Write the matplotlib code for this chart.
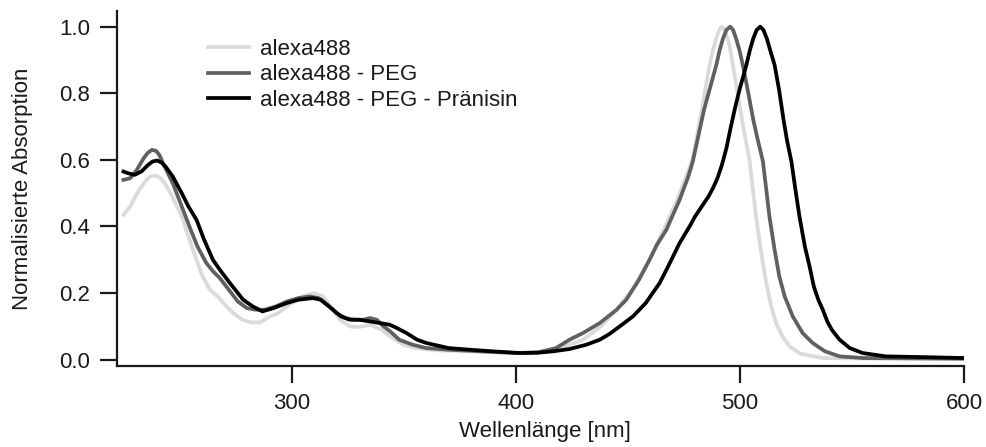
import numpy as np
import matplotlib
matplotlib.use('Agg')
import matplotlib.pyplot as plt

# wavelength [nm] / normalised absorption
wl_a488 = [225, 228, 232, 235, 237, 239, 241, 243, 246, 251, 254, 257.6, 260, 263.6, 267, 271,
           274, 278, 282, 286, 289, 294, 300, 305, 310, 314, 318, 321.5, 326, 330, 335, 340,
           345, 350, 355, 365, 380, 400, 410, 420, 430, 438, 445, 452, 459.7, 466, 472, 476,
           479, 483, 486.5, 488, 489.5, 491, 491.7, 492.5, 494, 495.5, 496.9, 498.5, 500, 502,
           504.3, 507.2, 510, 511.8, 514, 516.2, 519, 522.2, 527, 537, 560, 600]
abs_a488 = [0.435, 0.46, 0.51, 0.538, 0.55, 0.553, 0.548, 0.535, 0.50, 0.43, 0.37, 0.30, 0.255,
            0.21, 0.19, 0.16, 0.14, 0.12, 0.112, 0.112, 0.125, 0.14, 0.17, 0.19, 0.20, 0.19,
            0.155, 0.12, 0.10, 0.098, 0.105, 0.09, 0.065, 0.045, 0.035, 0.028, 0.025, 0.02,
            0.022, 0.035, 0.06, 0.10, 0.15, 0.21, 0.30, 0.39, 0.48, 0.55, 0.605, 0.75, 0.885,
            0.93, 0.965, 0.993, 1.0, 0.997, 0.975, 0.94, 0.885, 0.82, 0.76, 0.68, 0.60, 0.43,
            0.30, 0.23, 0.16, 0.11, 0.07, 0.04, 0.018, 0.005, 0.003, 0.003]

wl_peg = [225, 228, 231, 234, 236, 237.7, 239.5, 241, 243, 247, 251, 255, 258, 262, 265, 268,
          272, 276, 280, 284, 288, 293, 298, 303, 308, 312, 316, 320, 324, 328, 332, 335, 338,
          341, 344, 348, 354, 360, 370, 385, 400, 410, 418, 424, 430, 437.5, 445, 449.3, 455,
          459.7, 463, 467.2, 473.1, 477, 479, 484, 489.5, 491, 492.5, 494, 495.7, 497, 498.5,
          500, 501.3, 503.5, 506, 508, 510.3, 511.8, 513.2, 515.5, 517.6, 520, 523.6, 528,
          532.5, 538, 544.5, 555, 600]
abs_peg = [0.54, 0.545, 0.57, 0.605, 0.622, 0.63, 0.627, 0.615, 0.585, 0.53, 0.46, 0.39, 0.34,
           0.29, 0.265, 0.245, 0.21, 0.175, 0.155, 0.15, 0.15, 0.16, 0.175, 0.185, 0.19, 0.185,
           0.165, 0.14, 0.125, 0.12, 0.12, 0.125, 0.12, 0.10, 0.085, 0.06, 0.045, 0.035, 0.03,
           0.025, 0.02, 0.022, 0.035, 0.06, 0.08, 0.11, 0.15, 0.18, 0.24, 0.30, 0.345, 0.39,
           0.48, 0.55, 0.595, 0.75, 0.885, 0.93, 0.965, 0.99, 1.0, 0.99, 0.96, 0.925, 0.885,
           0.81, 0.72, 0.66, 0.595, 0.51, 0.43, 0.33, 0.25, 0.19, 0.13, 0.08, 0.05, 0.025,
           0.01, 0.005, 0.003]

wl_pra = [225, 227, 230, 233, 236, 238, 240, 242, 244, 247, 251, 254, 257.6, 261, 264.9, 268,
          272.5, 278.4, 282.7, 287, 292, 297.8, 303, 309.5, 313, 318.5, 322, 326, 330, 334.9,
          339.4, 343.8, 347, 351.3, 356, 360.2, 370, 379.5, 390, 401.8, 410, 416.5, 424, 431.5,
          437.5, 442, 446.4, 452.3, 458, 464.2, 468, 473.1, 478, 480, 482, 484, 486, 488, 490,
          492, 494, 496, 498, 500, 501.5, 502.9, 504.5, 506, 507.5, 509.1, 510.5, 512, 513.5,
          515.5, 517.5, 519.5, 521, 523, 524.8, 526.6, 529, 531.1, 533, 535, 537, 539, 541,
          544.5, 549, 554.8, 565, 580, 600]
abs_pra = [0.565, 0.56, 0.555, 0.565, 0.585, 0.595, 0.598, 0.592, 0.578, 0.55, 0.50, 0.46,
           0.42, 0.36, 0.30, 0.27, 0.23, 0.18, 0.16, 0.145, 0.155, 0.17, 0.18, 0.185, 0.18,
           0.15, 0.13, 0.12, 0.12, 0.115, 0.11, 0.105, 0.095, 0.08, 0.06, 0.05, 0.035, 0.03,
           0.025, 0.02, 0.021, 0.025, 0.032, 0.045, 0.06, 0.078, 0.10, 0.13, 0.17, 0.23, 0.28,
           0.35, 0.405, 0.43, 0.45, 0.47, 0.49, 0.515, 0.545, 0.585, 0.635, 0.70, 0.76, 0.815,
           0.85, 0.885, 0.93, 0.965, 0.99, 1.0, 0.99, 0.965, 0.93, 0.885, 0.81, 0.72, 0.66,
           0.595, 0.51, 0.43, 0.34, 0.28, 0.22, 0.18, 0.15, 0.115, 0.09, 0.06, 0.035, 0.02,
           0.01, 0.008, 0.005]

labels = ['alexa488', 'alexa488 - PEG', 'alexa488 - PEG - Pränisin']
colors = ['#dadada', '#606060', '#000000']

plt.rcParams['font.family'] = ['Liberation Sans', 'DejaVu Sans']
plt.rcParams['font.size'] = 16

fig = plt.figure(figsize=(9.87, 4.47), dpi=100)
ax = fig.add_axes([0.1185, 0.1819, 0.8582, 0.7935])

series = [(wl_a488, abs_a488), (wl_peg, abs_peg), (wl_pra, abs_pra)]
for (x, y), lab, c in zip(series, labels, colors):
    ax.plot(x, y, color=c, lw=2.7, label=lab, solid_joinstyle='round')

ax.set_xlim(222.1, 600)
ax.set_ylim(-0.018, 1.047)
ax.set_xticks([300, 400, 500, 600])
ax.set_yticks(np.arange(0, 1.01, 0.2))
ax.yaxis.set_major_formatter(matplotlib.ticker.FormatStrFormatter('%.1f'))
for s in ['top', 'right']:
    ax.spines[s].set_visible(False)
for s in ['left', 'bottom']:
    ax.spines[s].set_linewidth(1.6)
    ax.spines[s].set_color('#1a1a1a')
ax.tick_params(direction='out', length=12.5, width=1.6, pad=7, colors='#1a1a1a')

ax.set_xlabel('Wellenlänge [nm]', color='#1a1a1a')
ax.set_ylabel('Normalisierte Absorption', color='#1a1a1a')
ax.xaxis.set_label_coords(0.505, -0.156)
ax.yaxis.set_label_coords(-0.099, 0.5)

leg = ax.legend(loc='upper left', bbox_to_anchor=(0.1074, 0.921), frameon=False, borderpad=0,
                borderaxespad=0, handlelength=1.85, handletextpad=0.5, labelspacing=0.2)
for t in leg.get_texts():
    t.set_color('#1a1a1a')

fig.savefig('out.png', dpi=100)
